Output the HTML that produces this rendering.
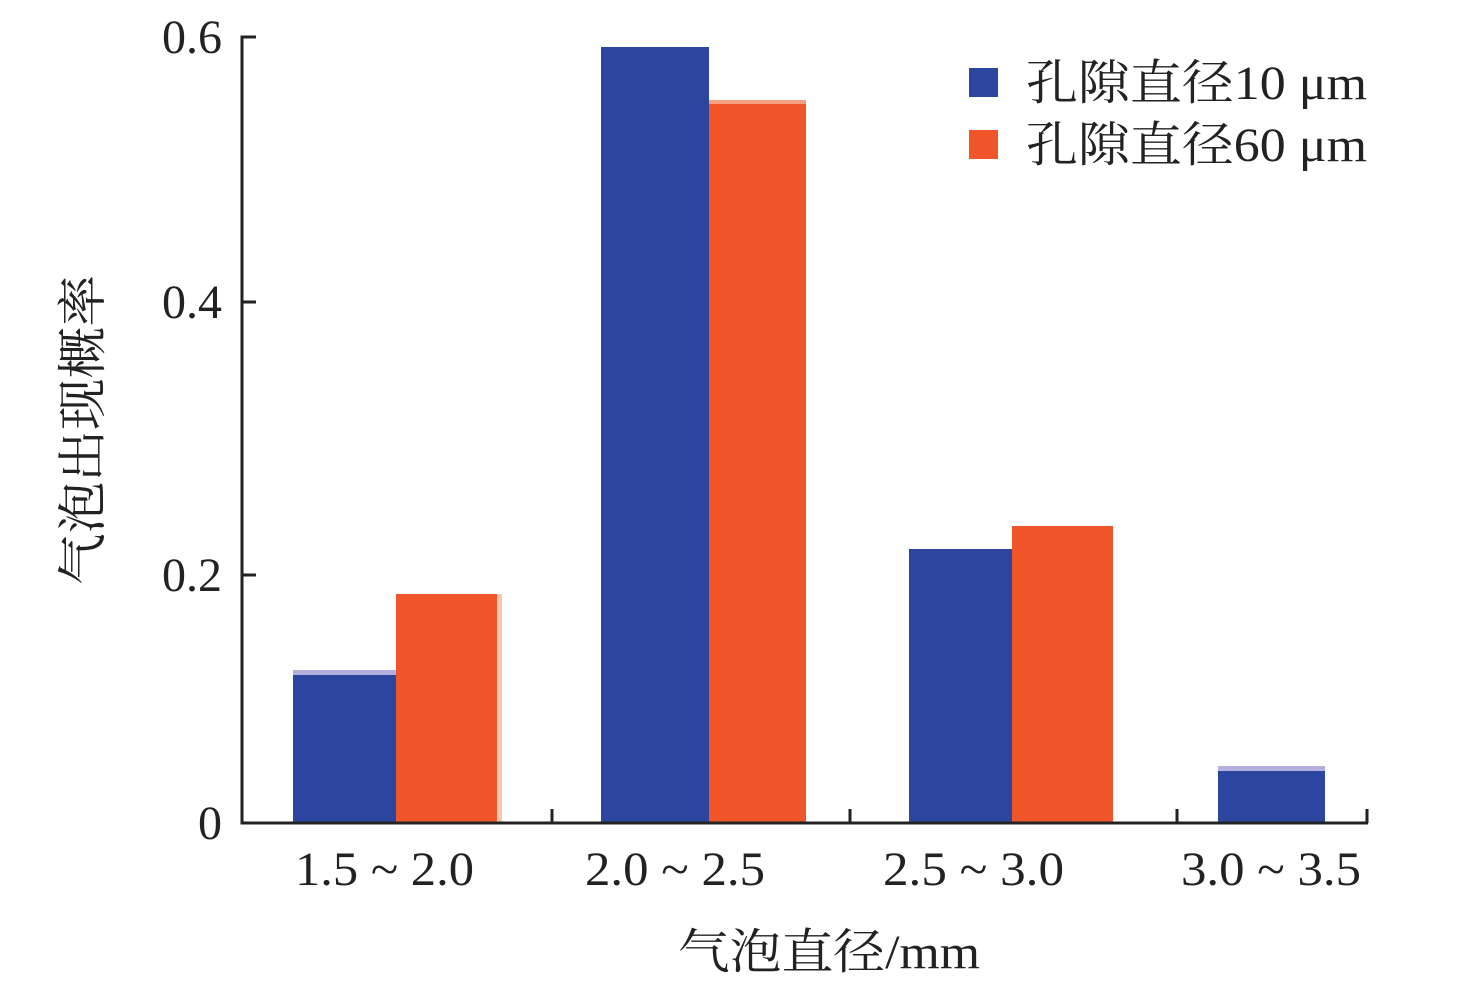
<!DOCTYPE html>
<html><head><meta charset="utf-8"><style>body{margin:0;background:#fff}</style></head><body>
<svg width="1476" height="985" viewBox="0 0 1476 985" xmlns="http://www.w3.org/2000/svg" font-family="'Liberation Serif','Noto Serif CJK SC',serif" fill="#222">
<g>
<rect x="293" y="670" width="103" height="153" fill="#b3b0e0"/>
<rect x="293" y="675" width="103" height="148" fill="#2c46a0"/>
<rect x="396" y="594" width="106" height="229" fill="#f7c8b0"/>
<rect x="396" y="594" width="101" height="229" fill="#f05629"/>
<rect x="601" y="47" width="108" height="776" fill="#2c46a0"/>
<rect x="709" y="100" width="97" height="723" fill="#f05629"/>
<rect x="709" y="100" width="97" height="4" fill="#f7a080"/>
<rect x="909" y="549" width="103" height="274" fill="#2c46a0"/>
<rect x="1012" y="526" width="101" height="297" fill="#f05629"/>
<rect x="1218" y="766" width="107" height="57" fill="#b3b0e0"/>
<rect x="1218" y="771" width="107" height="52" fill="#2c46a0"/>
</g>
<g stroke="#222" stroke-width="3" fill="none">
<path d="M256 37H242V823H1368"/>
<path d="M242 302H256M242 575H256M242 823H256"/>
<path d="M552 823V809M850 823V809M1177 823V809M1367 823V809"/>
</g>
<g font-size="48" text-anchor="end">
<text x="222" y="53">0.6</text>
<text x="222" y="318">0.4</text>
<text x="222" y="591">0.2</text>
<text x="222" y="839">0</text>
</g>
<g font-size="48">
<text x="295" y="885" textLength="179" lengthAdjust="spacingAndGlyphs">1.5 ~ 2.0</text>
<text x="585" y="885" textLength="180" lengthAdjust="spacingAndGlyphs">2.0 ~ 2.5</text>
<text x="883" y="885" textLength="181" lengthAdjust="spacingAndGlyphs">2.5 ~ 3.0</text>
<text x="1181" y="885" textLength="180" lengthAdjust="spacingAndGlyphs">3.0 ~ 3.5</text>
<text x="678" y="968" textLength="302" lengthAdjust="spacingAndGlyphs">气泡直径/mm</text>
</g>
<text transform="translate(100,585) rotate(-90)" font-size="50" textLength="310" lengthAdjust="spacingAndGlyphs">气泡出现概率</text>
<rect x="969" y="68" width="29" height="29" fill="#2c46a0"/>
<rect x="969" y="130" width="29" height="29" fill="#f05629"/>
<g font-size="48">
<text x="1026" y="99" textLength="341" lengthAdjust="spacingAndGlyphs">孔隙直径10 μm</text>
<text x="1026" y="161" textLength="341" lengthAdjust="spacingAndGlyphs">孔隙直径60 μm</text>
</g>
</svg>
</body></html>
